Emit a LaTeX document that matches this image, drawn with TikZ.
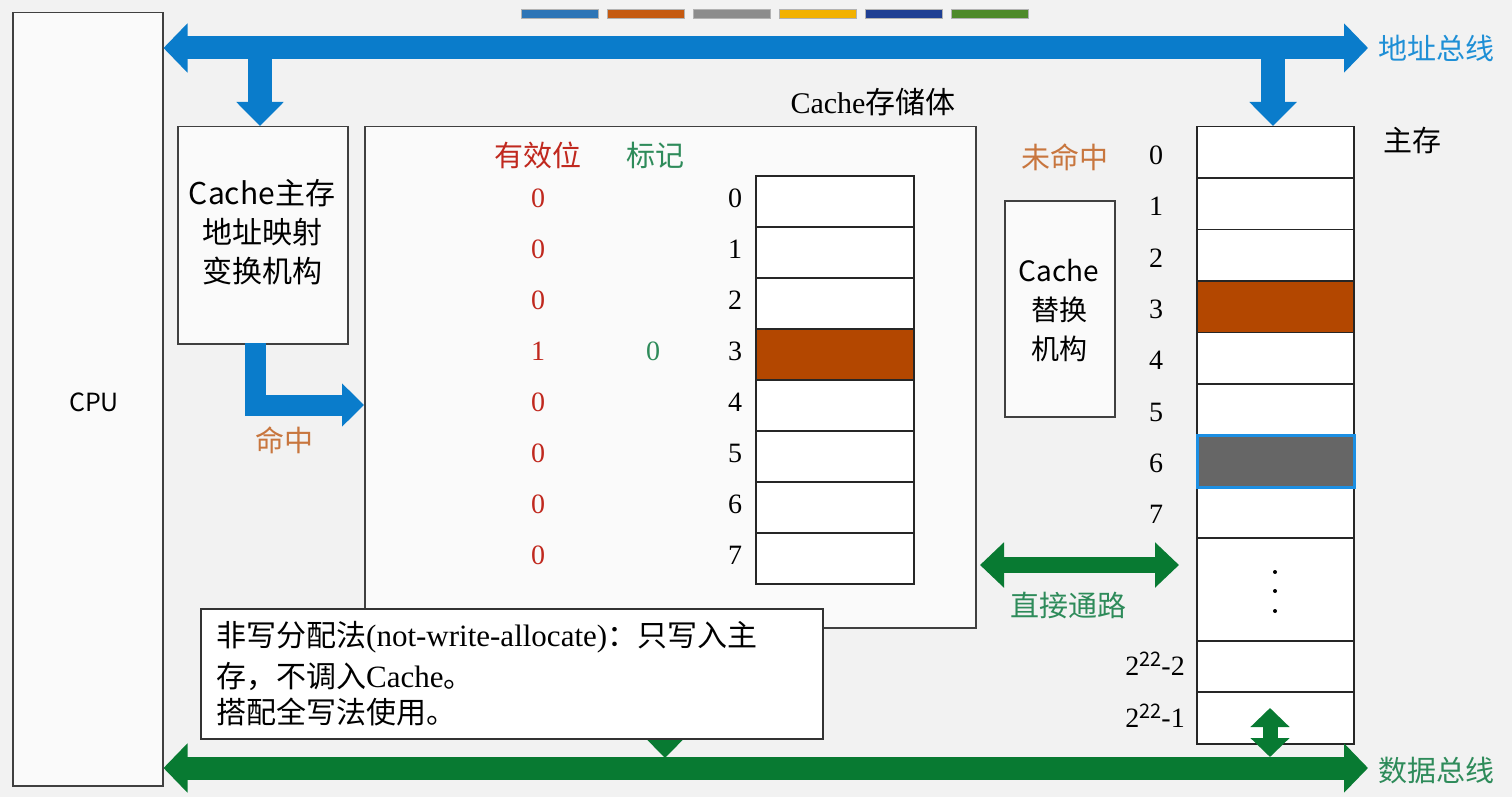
\documentclass[tikz,border=0pt]{standalone}
\usepackage{fontspec}
\setmainfont{Liberation Serif}
\newfontfamily\cjk{Noto Sans CJK SC}
\usetikzlibrary{arrows.meta}
\definecolor{bg}{HTML}{F2F2F2}
\definecolor{busblue}{HTML}{0A7CCB}
\definecolor{labblue}{HTML}{1E8FD6}
\definecolor{busgreen}{HTML}{087A32}
\definecolor{labgreen}{HTML}{2E8B5A}
\definecolor{hitbrown}{HTML}{B34700}
\definecolor{hittext}{HTML}{C8763E}
\definecolor{validred}{HTML}{C0281E}
\definecolor{grayfill}{HTML}{666666}
\definecolor{selblue}{HTML}{1C8FE3}
\definecolor{barA}{HTML}{2E75B6}
\definecolor{barB}{HTML}{C55A11}
\definecolor{barC}{HTML}{8C8C8C}
\definecolor{barD}{HTML}{F2B100}
\definecolor{barE}{HTML}{1F3F93}
\definecolor{barF}{HTML}{4E8A2A}
\newcommand{\nc}[1]{{\cjk\fontsize{30}{38}\selectfont #1}}
\begin{document}
\begin{tikzpicture}[x=1pt,y=-1pt,
  box/.style={draw=black!75, line width=1.5pt, fill=white!60!bg, inner sep=0pt, anchor=north west},
  cell/.style={draw=black!85, line width=1.5pt, fill=white, inner sep=0pt, minimum width=158pt},
  mcell/.style={draw=black!85, line width=1.5pt, fill=white, inner sep=0pt, minimum width=157pt, anchor=north west},
  num/.style={font=\fontsize{28}{32}\selectfont, inner sep=0pt},
  cj/.style={font=\cjk\fontsize{29}{36}\selectfont, inner sep=0pt},
  bluebus/.style={busblue, line width=23pt, line join=miter},
  greenbus/.style={busgreen, line width=23pt, line join=miter},
  notetext/.style={anchor=west, font=\fontsize{31}{38}\selectfont, inner sep=0pt},
]
\fill[bg] (0,0) rectangle (1512,797);
\useasboundingbox (0,0) rectangle (1512,797);

% top colour bar
\foreach \c [count=\i from 0] in {barA,barB,barC,barD,barE,barF}
  \fill[\c, draw=black!30, line width=0.6pt] (521+86*\i,9) rectangle ++(77,9);

% boxes
\node[box, minimum width=150pt, minimum height=773pt] (cpu) at (12,12) {};
\node[font=\cjk\fontsize{25}{30}\selectfont] (cpulab) at (94,402) {CPU};
\node[box, minimum width=170pt, minimum height=217pt] (map) at (177,126) {};
\node[font=\cjk\fontsize{30}{39}\selectfont, align=center] (maplab) at (262,232) {Cache主存\\地址映射\\变换机构};
\node[box, minimum width=611pt, minimum height=501pt] (cache) at (364,126) {};
\node[font=\fontsize{30}{34}\selectfont] (cachelab) at (873,102) {Cache{\cjk 存储体}};
\node[box, minimum width=110pt, minimum height=216pt] (repl) at (1004,200) {};
\node[font=\cjk\fontsize{28}{39}\selectfont, align=center] (repllab) at (1059,310) {Cache\\替换\\机构};

% column headers
\node[cj, text=validred] (hv) at (538,155) {有效位};
\node[cj, text=labgreen] (ht) at (655,155) {标记};
\node[cj, text=hittext] (miss) at (1065,157) {未命中};
\node[cj] (mmlab) at (1412,140) {主存};

% cache lines
\foreach \i/\v in {0/0,1/0,2/0,3/1,4/0,5/0,6/0,7/0} {
  \node[cell, minimum height=51pt] (c\i) at (835,201.5+51*\i) {};
  \node[num] (cn\i) at (735,198+51*\i) {\i};
  \node[num, text=validred] (cv\i) at (538,198+51*\i) {\v};
}
\node[cell, minimum height=51pt, fill=hitbrown] (c3f) at (c3) {};
\node[num, text=labgreen] (tag3) at (653,351) {0};

% main memory
\foreach \i in {0,...,7} {
  \node[mcell, minimum height=51.4pt] (m\i) at (1196,126+51.4*\i) {};
  \node[num] (mn\i) at (1156,155+51.4*\i) {\i};
}
\node[mcell, minimum height=51.4pt, fill=hitbrown] (m3f) at (1196,126+51.4*3) {};
\node[mcell, minimum height=51.4pt, fill=grayfill, draw=selblue, line width=3pt] (m6f) at (1196,126+51.4*6) {};
\node[mcell, minimum height=103pt] (mdots) at (1196,537) {};
\node[mcell, minimum height=51pt] (mA) at (1196,640) {};
\node[mcell, minimum height=52pt] (mB) at (1196,691) {};
\foreach \y in {572,591,611} \fill (1275,\y) circle (2pt);
\node[num] (mAl) at (1155,664) {2{\cjk\fontsize{20}{22}\selectfont\raisebox{9pt}{22}}-2};
\node[num] (mBl) at (1155,716) {2{\cjk\fontsize{20}{22}\selectfont\raisebox{9pt}{22}}-1};

% address bus
\coordinate (abL) at (cpu.east |- 0,48);
\coordinate (abR) at (1368,48);
\draw[bluebus, {Triangle[length=24pt,width=48pt]}-{Triangle[length=24pt,width=48pt]}] (abL) -- (abR);
\draw[busblue, line width=24pt, -{Triangle[length=24pt,width=46pt]}] (260,48) -- (map.north -| 260,0);
\draw[busblue, line width=24pt, -{Triangle[length=24pt,width=46pt]}] (1273,48) -- (m0.north -| 1273,0);
\node[cj, text=labblue, anchor=west] (ablab) at (1378,48) {地址总线};

% hit path
\coordinate (hitS) at (255,343);
\coordinate (hitE) at (cache.west |- 0,405);
\draw[busblue, line width=21pt, line join=miter, -{Triangle[length=22pt,width=42pt]}] (hitS) |- (hitE);
\node[cj, text=hittext] (hitlab) at (284,440) {命中};

% direct path
\draw[busgreen, line width=16pt, {Triangle[length=24pt,width=44pt]}-{Triangle[length=24pt,width=44pt]}] (980,565) -- (1179,565);
\node[cj, text=labgreen] (dirlab) at (1068,605) {直接通路};

% cache to data bus (hidden under note)
\draw[busgreen, line width=22pt, -{Triangle[length=20pt,width=38pt]}] (665,627) -- (665,758);

% data bus
\coordinate (dbL) at (cpu.east |- 0,768);
\coordinate (dbR) at (1368,768);
\draw[greenbus, {Triangle[length=24pt,width=48pt]}-{Triangle[length=24pt,width=48pt]}] (dbL) -- (dbR);
\draw[busgreen, line width=15pt, {Triangle[length=19pt,width=38pt]}-{Triangle[length=19pt,width=38pt]}] (1270,757) -- (1270,708);
\node[cj, text=labgreen, anchor=west] (dblab) at (1378,770) {数据总线};

% note
\node[draw=black!80, line width=1.5pt, fill=white, minimum width=622pt, minimum height=130pt, anchor=north west, inner sep=0pt] (note) at (200,608) {};
\node[notetext] (n1) at (216,637) {\nc{非写分配法}(not-write-allocate)\nc{：只写入主}};
\node[notetext] (n2) at (216,676) {\nc{存，不调入}Cache\nc{。}};
\node[notetext] (n3) at (216,712) {\nc{搭配全写法使用。}};
\end{tikzpicture}
\end{document}
